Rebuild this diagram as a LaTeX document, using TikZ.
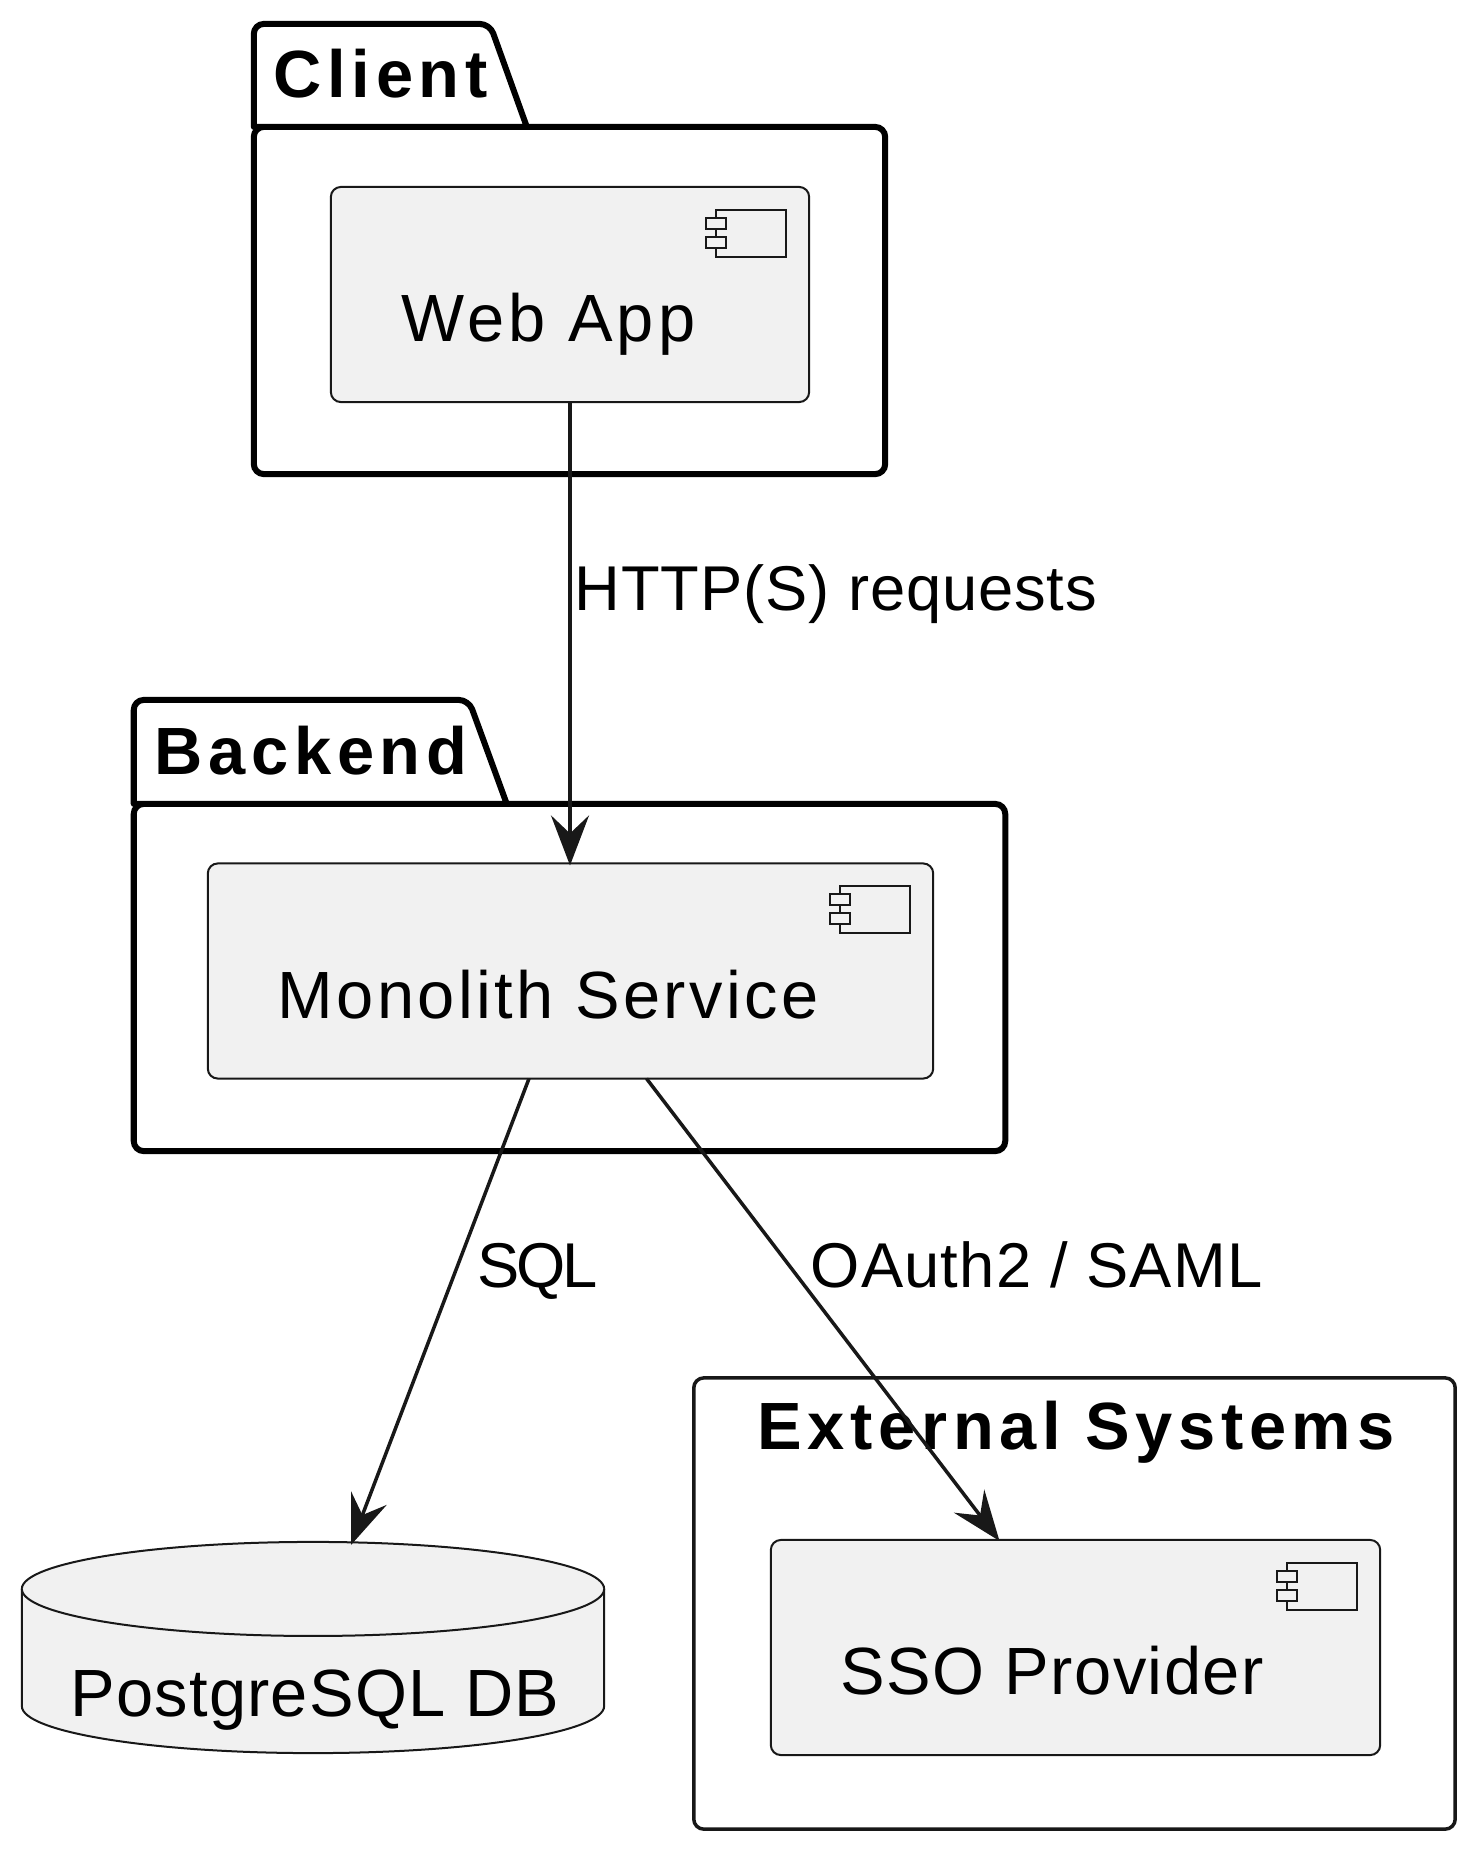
\documentclass[tikz,border=0pt]{standalone}
\usepackage{fontspec}
\setmainfont{Liberation Sans}
\usepackage{tikz}
\usetikzlibrary{arrows.meta,calc}
\definecolor{nodegray}{RGB}{241,241,241}
\definecolor{linegray}{RGB}{24,24,24}
\newfontfamily\titlefont[LetterSpace=8.5]{Liberation Sans}
\tikzset{
    compicon/.pic={
        \draw[draw=linegray, line width=0.02cm, fill=nodegray] (-93,23) rectangle (-23,70);
        \draw[draw=linegray, line width=0.02cm, fill=nodegray] (-103,31) rectangle (-83,42);
        \draw[draw=linegray, line width=0.02cm, fill=nodegray] (-103,50) rectangle (-83,61);
    }
}

\begin{document}
\begin{tikzpicture}[
    x=0.01cm, y=-0.01cm,
    compbox/.style={rectangle, rounded corners=0.1cm, draw=linegray, fill=nodegray,
                    line width=0.02cm, minimum height=2.15cm, inner sep=0pt, outer sep=0pt},
    pkgbox/.style={rectangle, rounded corners=0.1cm, draw=black, fill=white,
                   line width=0.06cm, inner sep=0pt, outer sep=0pt},
    pkgtab/.style={draw=black, fill=white, line width=0.06cm, line join=round},
    dbline/.style={draw=linegray, fill=nodegray, line width=0.02cm},
    comptext/.style={font=\fontsize{19}{23}\selectfont\addfontfeature{LetterSpace=#1}, text=black, anchor=base west, inner sep=0pt},
    flowtext/.style={font=\fontsize{18}{22}\selectfont\addfontfeature{LetterSpace=#1}, text=black, anchor=base west, inner sep=0pt},
    titletext/.style={font=\fontsize{19}{23}\selectfont\titlefont\bfseries, text=black, anchor=base west, inner sep=0pt},
    arrow/.style={-{Stealth[length=0.5cm, width=0.38cm, inset=0.18cm]}, draw=linegray, line width=0.035cm}
]
\useasboundingbox (0,0) rectangle (1482,1854);

\node[pkgbox, minimum width=6.31cm, minimum height=3.47cm] (client) at (569.5,300.5) {};
\draw[pkgtab] (client.north west) [rounded corners=0.1cm] -- ++(0,-103) -- ++(236,0) [sharp corners] -- ++(37,103) -- cycle;
\node[titletext] (clienttitle) at (273,97) {Client};
\node[compbox, minimum width=4.78cm] (webapp) at (570,294.5) {};
\pic at (webapp.north east) {compicon};
\node[comptext=6] (webapptext) at (401,341) {Web App};

\node[pkgbox, minimum width=8.71cm, minimum height=3.47cm] (backend) at (569.5,977.5) {};
\draw[pkgtab] (backend.north west) [rounded corners=0.1cm] -- ++(0,-104) -- ++(335,0) [sharp corners] -- ++(38,104) -- cycle;
\node[titletext] (backendtitle) at (154,774) {Backend};
\node[compbox, minimum width=7.25cm] (monolith) at (570.5,971) {};
\pic at (monolith.north east) {compicon};
\node[comptext=5] (monolithtext) at (277,1018) {Monolith Service};

\node[rectangle, rounded corners=0.1cm, draw=linegray, fill=white, line width=0.035cm,
      minimum width=7.61cm, minimum height=4.51cm, inner sep=0pt, outer sep=0pt] (external) at (1074.5,1603.5) {};
\node[titletext] (externaltitle) at (757,1449) {External Systems};
\node[compbox, minimum width=6.09cm] (sso) at (1075.5,1647.5) {};
\pic at (sso.north east) {compicon};
\node[comptext=2.2] (ssotext) at (840,1694) {SSO Provider};

\node[rectangle, minimum width=5.82cm, minimum height=2.11cm, inner sep=0pt, outer sep=0pt] (db) at (313,1647.5) {};
\draw[dbline] ($(db.north west)+(0,47)$) arc[x radius=2.91cm, y radius=0.47cm, start angle=180, end angle=0]
    -- ($(db.south east)+(0,-47)$) arc[x radius=2.91cm, y radius=0.47cm, start angle=0, end angle=-180] -- cycle;
\draw[dbline] ($(db.north west)+(0,47)$) arc[x radius=2.91cm, y radius=0.47cm, start angle=180, end angle=360];
\node[comptext=1.8] (dbtext) at (70,1716) {PostgreSQL DB};

\draw[arrow] (webapp) -- ($(monolith.north)+(-0.5,2)$);
\draw[arrow] ($(monolith.south)+(-41.5,0)$) -- ($(db.north)+(38,3)$);
\draw[arrow] ($(monolith.south)+(76,0)$) -- ($(sso.north)+(-76,1)$);

\node[flowtext=1.4] (httplabel) at (574,610) {HTTP(S) requests};
\node[flowtext=-5] (sqllabel) at (477,1287) {SQL};
\node[flowtext=1.9] (authlabel) at (810,1287) {OAuth2 / SAML};
\end{tikzpicture}
\end{document}
